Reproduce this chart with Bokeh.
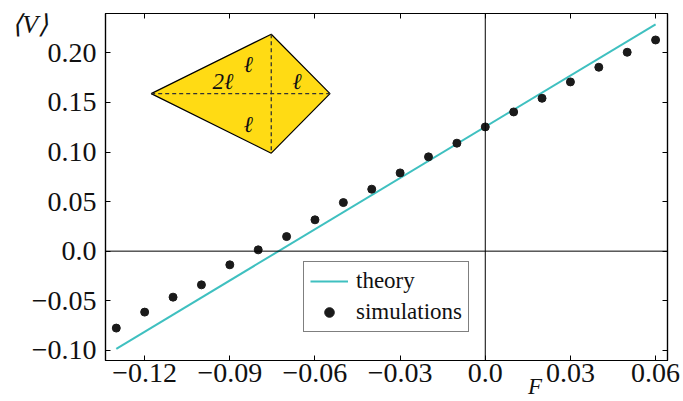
from bokeh.plotting import figure
from bokeh.models import (Range1d, FixedTicker, LinearAxis, Span, Label, Legend,
                          LegendItem, ColumnDataSource)
from bokeh.embed import file_html
from bokeh.resources import INLINE
from bokeh.core.properties import value

# ---- data ----
F_sim = [-0.13, -0.12, -0.11, -0.10, -0.09, -0.08, -0.07, -0.06, -0.05, -0.04,
         -0.03, -0.02, -0.01, 0.00, 0.01, 0.02, 0.03, 0.04, 0.05, 0.06]
V_sim = [-0.0776, -0.0615, -0.0464, -0.0340, -0.0138, 0.0013, 0.0147, 0.0316, 0.0490, 0.0625,
         0.0789, 0.0951, 0.1089, 0.1253, 0.1404, 0.1542, 0.1707, 0.1855, 0.2006, 0.2130]
F_theory = [-0.13, 0.06]
V_theory = [-0.0985, 0.2288]

x_ticks = [-0.12, -0.09, -0.06, -0.03, 0.0, 0.03, 0.06]
x_tick_labels = ["\u22120.12", "\u22120.09", "\u22120.06", "\u22120.03", "0.0", "0.03", "0.06"]
y_ticks = [-0.10, -0.05, 0.0, 0.05, 0.10, 0.15, 0.20]
y_tick_labels = ["\u22120.10", "\u22120.05", "0.0", "0.05", "0.10", "0.15", "0.20"]

# inset kite diagram (left, top, right, bottom vertices)
kite_x = [-0.1177, -0.0754, -0.0547, -0.0754]
kite_y = [0.1589, 0.2188, 0.1589, 0.0988]
kite_label_text = ["2\u2113", "\u2113", "\u2113", "\u2113"]
kite_label_x = [-0.0924, -0.0835, -0.0663, -0.0835]
kite_label_y = [0.1710, 0.1878, 0.1708, 0.1273]

FONT = "Liberation Serif"

p = figure(frame_width=562, frame_height=347,
           x_range=Range1d(-0.1338, 0.0642), y_range=Range1d(-0.1103, 0.2397),
           output_backend="svg", toolbar_location=None,
           x_axis_location=None, y_axis_location=None,
           min_border_left=105, min_border_right=15, min_border_top=13, min_border_bottom=40)
p.grid.visible = False
p.background_fill_color = "white"
p.border_fill_color = "white"
p.outline_line_color = "black"
p.outline_line_width = 1.2


def make_axis(ticks, labels, show_labels):
    ax = LinearAxis(ticker=FixedTicker(ticks=ticks))
    ax.major_tick_in = 5
    ax.major_tick_out = 0
    ax.minor_tick_in = 0
    ax.minor_tick_out = 0
    ax.axis_line_color = "black"
    ax.axis_line_width = 1.2
    ax.major_tick_line_color = "black"
    ax.major_tick_line_width = 1
    if show_labels:
        ax.major_label_overrides = {t: l for t, l in zip(ticks, labels)}
        ax.major_label_text_font = FONT
        ax.major_label_text_font_size = "28px"
        ax.major_label_text_color = "#111111"
    else:
        # mirrored axis: ticks only, no labels
        ax.major_label_overrides = {t: "" for t in ticks}
        ax.major_label_text_font_size = "1px"
        ax.major_label_standoff = 0
    return ax


bottom = make_axis(x_ticks, x_tick_labels, True)
bottom.major_label_standoff = 3
left = make_axis(y_ticks, y_tick_labels, True)
left.major_label_standoff = 9
top = make_axis(x_ticks, x_tick_labels, False)
right = make_axis(y_ticks, y_tick_labels, False)
p.add_layout(bottom, "below")
p.add_layout(left, "left")
p.add_layout(top, "above")
p.add_layout(right, "right")

# zero lines
p.add_layout(Span(location=0, dimension="height", line_color="black", line_width=1))
p.add_layout(Span(location=0, dimension="width", line_color="black", line_width=1))

# kite inset
p.patch(kite_x, kite_y, fill_color="#FFDB14", line_color="black", line_width=1.2)
p.line([kite_x[0], kite_x[2]], [kite_y[0], kite_y[2]], line_color="#333333",
       line_width=1.3, line_dash="4 3")
p.line([kite_x[1], kite_x[3]], [kite_y[1], kite_y[3]], line_color="#333333",
       line_width=1.3, line_dash="4 3")
kite_src = ColumnDataSource(dict(x=kite_label_x, y=kite_label_y, t=kite_label_text))
p.text(x="x", y="y", text="t", source=kite_src, text_font=value(FONT),
       text_font_style="italic", text_font_size="23px", text_align="center",
       text_baseline="middle", text_color="#111111")

# data
r_theory = p.line(F_theory, V_theory, line_color="#3FC0C0", line_width=2)
r_sim = p.scatter(F_sim, V_sim, size=8, fill_color="#1a1a1a", line_color="#1a1a1a")

legend = Legend(items=[LegendItem(label="theory", renderers=[r_theory]),
                       LegendItem(label="simulations", renderers=[r_sim])],
                location=(198, 28))
legend.label_text_font = FONT
legend.label_text_font_size = "23px"
legend.label_text_color = "#111111"
legend.border_line_color = "black"
legend.border_line_width = 1.2
legend.background_fill_color = "white"
legend.background_fill_alpha = 1
legend.padding = 6
legend.spacing = 5
legend.glyph_width = 38
legend.glyph_height = 24
legend.label_height = 24
legend.label_standoff = 8
legend.margin = 0
p.add_layout(legend, "center")

# axis titles (placed in a side panel so they are not clipped to the frame)
p.add_layout(Label(x=-0.1603, y=0.2290, text="\u27e8V\u27e9", text_font=FONT,
                   text_font_style="italic", text_font_size="26px",
                   text_align="center", text_baseline="middle", text_color="#111111"), "below")
p.add_layout(Label(x=0.0175, y=-0.1370, text="F", text_font=FONT,
                   text_font_style="italic", text_font_size="23px",
                   text_align="center", text_baseline="middle", text_color="#111111"), "below")

open("out.html", "w").write(file_html(p, INLINE))
